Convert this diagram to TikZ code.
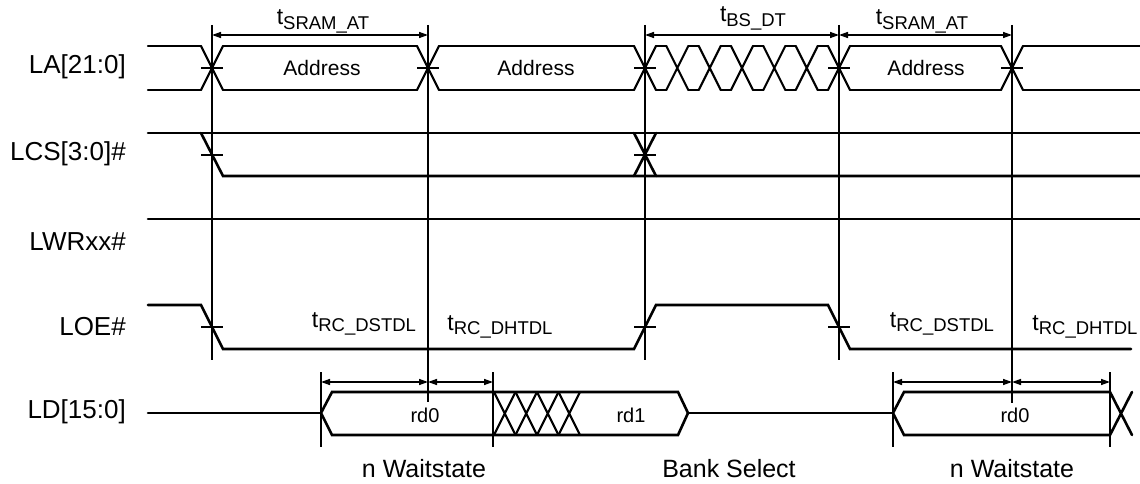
\documentclass[tikz,border=0pt]{standalone}
\usepackage{fontspec}
\setmainfont{Liberation Sans}
\usetikzlibrary{arrows.meta}

\newcommand{\tsub}[1]{{\fontsize{23}{26}\selectfont t}\raisebox{-4.5pt}{\fontsize{18.5}{22}\selectfont #1}}

\begin{document}
\begin{tikzpicture}[x=1pt,y=-1pt,
  sig/.style={line width=2.6pt,line cap=round,line join=miter},
  bus/.style={line width=2.1pt,line cap=round,line join=miter},
  edgeline/.style={line width=1.5pt},
  tickmark/.style={line width=1.5pt},
  dim/.style={line width=1.4pt,{Triangle[length=9pt,width=6pt]}-{Triangle[length=9pt,width=6pt]}},
  siglabel/.style={anchor=east,inner sep=0pt,font=\fontsize{26}{30}\selectfont},
  datatext/.style={inner sep=0pt,font=\fontsize{20}{24}\selectfont},
  phase/.style={anchor=base,inner sep=0pt,font=\fontsize{25}{30}\selectfont},
  timing/.style={anchor=base,inner sep=0pt}]
\useasboundingbox (0,0) rectangle (1140,484);

% signal names
\node[siglabel] (la) at (126,67) {LA[21:0]};
\node[siglabel] (lcs) at (126,154) {LCS[3:0]\#};
\node[siglabel] (lwr) at (126,242) {LWRxx\#};
\node[siglabel] (loe) at (126,327) {LOE\#};
\node[siglabel] (ld) at (126,412) {LD[15:0]};

% event lines
\foreach \x/\yb in {212/360, 428/402, 645/360, 839/360, 1012/403}
  \draw[edgeline] (\x,25) -- (\x,\yb);
\foreach \x in {321,493,893,1110}
  \draw[edgeline] (\x,372) -- (\x,447);

% LA[21:0]
\foreach \a/\b in {137/212, 212/428, 428/645, 645/677.3, 677.3/709.7, 709.7/742, 742/774.3, 774.3/806.7, 806.7/839, 839/1012, 1012/1151}
  \draw[bus] (\a+11,46) -- (\b-11,46) (\a+11,90) -- (\b-11,90);
\foreach \c in {212,428,645,677.3,709.7,742,774.3,806.7,839,1012}
  \draw[bus] (\c-11,46) -- (\c+11,90) (\c-11,90) -- (\c+11,46);
\foreach \c in {212,428,645,839,1012}
  \draw[tickmark] (\c-11,68) -- (\c+11,68);
\node[datatext,font=\fontsize{21}{24}\selectfont] (addr1) at (322,68) {Address};
\node[datatext,font=\fontsize{21}{24}\selectfont] (addr2) at (536,68) {Address};
\node[datatext,font=\fontsize{21}{24}\selectfont] (addr3) at (926,68) {Address};

% LCS[3:0]#
\draw[sig] (148,133) -- (1140,133);
\draw[sig] (201,133) -- (223,176) -- (1140,176);
\draw[sig] (634,133) -- (656,176) (634,176) -- (656,133);
\foreach \c in {212,645}
  \draw[tickmark] (\c-11,155) -- (\c+11,155);

% LWRxx#
\draw[sig] (148,219) -- (1140,219);

% LOE#
\draw[sig] (148,305) -- (201,305) -- (223,349) -- (634,349) -- (656,305)
  -- (828,305) -- (850,349) -- (1131,349);
\foreach \c in {212,645,839}
  \draw[tickmark] (\c-11,327) -- (\c+11,327);

% LD[15:0]
\draw[sig] (148,413) -- (321,413);
\draw[sig] (321,413) -- (332,392) -- (678,392) -- (688,413) -- (678,435) -- (332,435) -- cycle;
\foreach \i in {0,...,3}
  \draw[bus] (494+21.5*\i,392) -- (515.5+21.5*\i,435) (494+21.5*\i,435) -- (515.5+21.5*\i,392);
\draw[sig] (688,413) -- (893,413);
\draw[sig] (1132,392) -- (1110,435) -- (904,435) -- (893,413) -- (904,392) -- (1110,392) -- (1132,435);
\node[datatext] (rd0a) at (425,415) {rd0};
\node[datatext] (rd1) at (631,415) {rd1};
\node[datatext] (rd0b) at (1015,415) {rd0};

% timing arrows
\draw[dim] (212,35) -- (428,35);
\draw[dim] (645,35) -- (839,35);
\draw[dim] (839,35) -- (1012,35);
\draw[dim] (321,382) -- (428,382);
\draw[dim] (428,382) -- (493,382);
\draw[dim] (893,382) -- (1012,382);
\draw[dim] (1012,382) -- (1110,382);

\node[timing] (tat1) at (323,25) {\tsub{SRAM\_AT}};
\node[timing] (tbs) at (753,22) {\tsub{BS\_DT}};
\node[timing] (tat2) at (922,25) {\tsub{SRAM\_AT}};
\node[timing] (tds1) at (364,327) {\tsub{RC\_DSTDL}};
\node[timing] (tdh1) at (500,330) {\tsub{RC\_DHTDL}};
\node[timing] (tds2) at (942,327) {\tsub{RC\_DSTDL}};
\node[timing] (tdh2) at (1085,330) {\tsub{RC\_DHTDL}};

% phases
\node[phase] (wait1) at (424,477) {n Waitstate};
\node[phase] (bank) at (729,477) {Bank Select};
\node[phase] (wait2) at (1012,477) {n Waitstate};
\end{tikzpicture}
\end{document}
